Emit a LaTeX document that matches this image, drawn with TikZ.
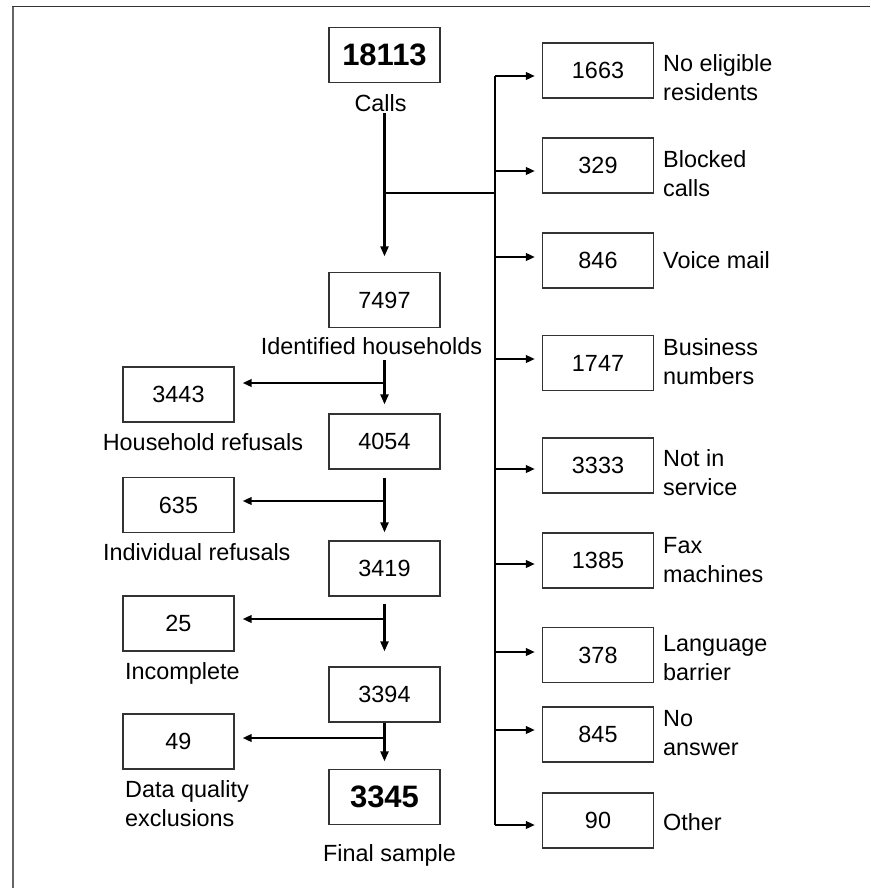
\documentclass[tikz,border=0pt]{standalone}
\usepackage{fontspec}
\setmainfont{Liberation Sans}
\usetikzlibrary{arrows.meta}
\newcommand\myfont{\fontsize{23.4}{29}\selectfont}
\newcommand\mybold{\fontsize{31}{36}\selectfont\bfseries}
\tikzset{
  box/.style={draw=black!80, line width=1.3pt, minimum width=111pt, minimum height=55pt, inner sep=0pt, font=\myfont},
  bigbox/.style={box, font=\mybold},
  lbl/.style={inner sep=0pt, font=\myfont, align=left},
  varr/.style={line width=2.3pt, -{Triangle[length=10pt,width=8pt]}},
  harr/.style={line width=2.3pt, -{Triangle[length=9pt,width=7.5pt]}},
  trunk/.style={line width=1.4pt}
}
\begin{document}
\begin{tikzpicture}[x=1pt,y=-1pt]
\useasboundingbox (0,0) rectangle (870,888);
\fill[white] (0,0) rectangle (870,888);
% frame
\draw[line width=1.5pt, black!60] (13,888) -- (13,6.5);
\draw[line width=1.5pt, black!80] (12.3,6.5) -- (870,6.5);

% main column
\node[bigbox] (b18113) at (384.5,55) {18113};
\node[box] (b7497) at (384.5,300) {7497};
\node[box] (b4054) at (384.5,441.5) {4054};
\node[box] (b3419) at (384.5,568.5) {3419};
\node[box] (b3394) at (384.5,694.5) {3394};
\node[bigbox] (b3345) at (384.5,797) {3345};

% left column
\node[box] (b3443) at (178.5,394.5) {3443};
\node[box] (b635) at (178.5,505) {635};
\node[box] (b25) at (178.5,623.5) {25};
\node[box] (b49) at (178.5,741.5) {49};

% right column
\node[box] (b1663) at (598,70.5) {1663};
\node[box] (b329) at (598,165.5) {329};
\node[box] (b846) at (598,260.5) {846};
\node[box] (b1747) at (598,363) {1747};
\node[box] (b3333) at (598,465.5) {3333};
\node[box] (b1385) at (598,560.5) {1385};
\node[box] (b378) at (598,655) {378};
\node[box] (b845) at (598,734.5) {845};
\node[box] (b90) at (598,820.5) {90};

% labels (base of a two-line label = baseline of its last line)
\node[lbl, anchor=base] (lcalls) at (380.5,111) {Calls};
\node[lbl, anchor=base] (lident) at (371.5,354) {Identified households};
\node[lbl, anchor=base] (lhouse) at (203,450) {Household refusals};
\node[lbl, anchor=base west] (lindiv) at (103,560) {Individual refusals};
\node[lbl, anchor=base west] (lincomp) at (125,679) {Incomplete};
\node[lbl, anchor=base west] (ldata) at (125,826) {Data quality\\exclusions};
\node[lbl, anchor=base] (lfinal) at (389.5,861) {Final sample};

\node[lbl, anchor=base west] (r1) at (663,101) {No eligible\\residents};
\node[lbl, anchor=base west] (r2) at (663,196) {Blocked\\calls};
\node[lbl, anchor=base west] (r3) at (663,268) {Voice mail};
\node[lbl, anchor=base west] (r4) at (663,384) {Business\\numbers};
\node[lbl, anchor=base west] (r5) at (663,495) {Not in\\service};
\node[lbl, anchor=base west] (r6) at (663,582) {Fax\\machines};
\node[lbl, anchor=base west] (r7) at (663,680) {Language\\barrier};
\node[lbl, anchor=base west] (r8) at (663,755) {No\\answer};
\node[lbl, anchor=base west] (r9) at (663,830) {Other};

% main vertical arrows
\draw[varr, shorten <=2pt, shorten >=15.5pt] (lcalls.south -| b7497.north) -- (b7497.north);
\draw[varr, shorten <=6pt, shorten >=9pt] (lident.south -| b4054.north) -- (b4054.north);
\draw[varr, shorten <=8pt, shorten >=8pt] (b4054.south) -- (b3419.north);
\draw[varr, shorten <=7pt, shorten >=15pt] (b3419.south) -- (b3394.north);
\draw[varr, shorten >=7.5pt] (b3394.south) -- (b3345.north);

% left branches
\coordinate (j1) at (384.5,383);
\coordinate (j2) at (384.5,501);
\coordinate (j3) at (384.5,619);
\coordinate (j4) at (384.5,738);
\draw[harr, shorten >=8pt] (j1) -- (j1 -| b3443.east);
\draw[harr, shorten >=8pt] (j2) -- (j2 -| b635.east);
\draw[harr, shorten >=8pt] (j3) -- (j3 -| b25.east);
\draw[harr, shorten >=8pt] (j4) -- (j4 -| b49.east);

% right trunk
\coordinate (split) at (384.5,193);
\coordinate (t0) at (495,193);
\coordinate (t1) at (495,76);
\coordinate (t2) at (495,171);
\coordinate (t3) at (495,257);
\coordinate (t4) at (495,359);
\coordinate (t5) at (495,469);
\coordinate (t6) at (495,564);
\coordinate (t7) at (495,652);
\coordinate (t8) at (495,730);
\coordinate (t9) at (495,825);
\draw[trunk] (split) -- (t0);
\draw[trunk] (t1) -- (t9);
\draw[harr, shorten >=7pt] (t1) -- (t1 -| b1663.west);
\draw[harr, shorten >=7pt] (t2) -- (t2 -| b329.west);
\draw[harr, shorten >=7pt] (t3) -- (t3 -| b846.west);
\draw[harr, shorten >=7pt] (t4) -- (t4 -| b1747.west);
\draw[harr, shorten >=7pt] (t5) -- (t5 -| b3333.west);
\draw[harr, shorten >=7pt] (t6) -- (t6 -| b1385.west);
\draw[harr, shorten >=7pt] (t7) -- (t7 -| b378.west);
\draw[harr, shorten >=7pt] (t8) -- (t8 -| b845.west);
\draw[harr, shorten >=7pt] (t9) -- (t9 -| b90.west);
\end{tikzpicture}
\end{document}
